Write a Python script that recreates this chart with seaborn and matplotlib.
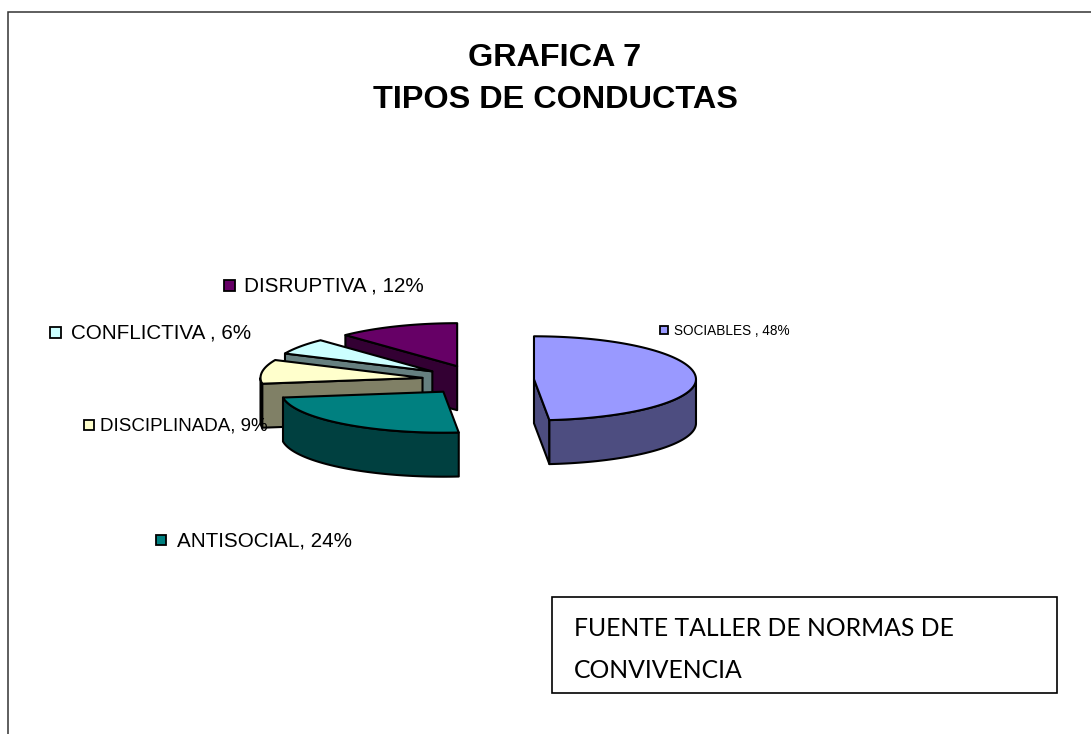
import numpy as np
import matplotlib
matplotlib.use("Agg")
import matplotlib.pyplot as plt
from matplotlib.patches import Rectangle
from matplotlib.colors import to_rgb
import seaborn as sns

categories = ["SOCIABLES", "ANTISOCIAL", "DISCIPLINADA", "CONFLICTIVA", "DISRUPTIVA"]
values = [48, 24, 9, 6, 12]
label_texts = ["SOCIABLES , 48%", "ANTISOCIAL, 24%", "DISCIPLINADA, 9%",
               "CONFLICTIVA , 6%", "DISRUPTIVA , 12%"]
colors = ["#9999FF", "#008080", "#FFFFCC", "#CCFFFF", "#660066"]
title_lines = ["GRAFICA 7", "TIPOS DE CONDUCTAS"]
source_lines = ["FUENTE TALLER DE NORMAS DE", "CONVIVENCIA"]

# layout, in figure pixels
CX, CY, RX, RY_BACK, RY_FRONT, DEPTH, EXPLODE = 478, 380, 162, 43, 41, 44, 0.346
label_layout = {  # swatch x, swatch y, swatch size, text x, font size
    "SOCIABLES": (660, 330, 8, 674, 9.8),
    "ANTISOCIAL": (156, 540, 10, 177, 14.9),
    "DISCIPLINADA": (84, 425, 10, 100, 13.5),
    "CONFLICTIVA": (50, 332, 11, 71, 14.85),
    "DISRUPTIVA": (224, 285, 11, 244, 14.9),
}

sns.set_theme(style="white")
plt.rcParams["font.family"] = ["Liberation Sans", "DejaVu Sans"]

fig = plt.figure(figsize=(10.91, 7.34), dpi=100, facecolor="white")
ax = fig.add_axes([0, 0, 1, 1])
ax.set_xlim(0, 1091)
ax.set_ylim(734, 0)
ax.axis("off")
sns.despine(ax=ax, left=True, bottom=True)

# outer frame (runs off the top-right and the bottom of the picture)
ax.plot([8, 8, 1091], [734, 12, 12], color="#333333", lw=1.1, solid_joinstyle="miter")

for y, line in zip((58, 100), title_lines):
    ax.text(555, y, line, ha="center", va="center", fontsize=23.3,
            fontweight="bold", color="black")


def rim(theta, apex):
    c = np.cos(theta)
    return apex[0] + RX * np.sin(theta), apex[1] - np.where(c > 0, RY_BACK, RY_FRONT) * c


fractions = np.array(values, dtype=float) / np.sum(values)
ends = np.cumsum(fractions) * 2 * np.pi
starts = ends - fractions * 2 * np.pi
mids = (starts + ends) / 2
style = dict(edgecolor="black", linewidth=1.5, joinstyle="round")

# painter's order: the slices at the back first
order = [4, 3, 2, 1, 0]
for i in order:
    apex = (CX + EXPLODE * RX * np.sin(mids[i]), CY - EXPLODE * RY_BACK * np.cos(mids[i]))
    top = colors[i]
    dark = tuple(c * 0.5 for c in to_rgb(top))
    # radial walls, only those that face the viewer
    walls = []
    if starts[i] >= np.pi:
        walls.append(starts[i])
    if ends[i] <= np.pi:
        walls.append(ends[i])
    for a in walls:
        rx, ry = rim(a, apex)
        ax.fill([apex[0], rx, rx, apex[0]],
                [apex[1], ry, ry + DEPTH, apex[1] + DEPTH], facecolor=dark, **style)
    # outer wall, the part that faces the viewer
    lo, hi = max(starts[i], np.pi / 2), min(ends[i], 3 * np.pi / 2)
    if hi > lo:
        th = np.linspace(lo, hi, 80)
        x, y = rim(th, apex)
        ax.fill(np.r_[x, x[::-1]], np.r_[y, y[::-1] + DEPTH], facecolor=dark, **style)
    # top face
    th = np.linspace(starts[i], ends[i], 120)
    x, y = rim(th, apex)
    ax.fill(np.r_[apex[0], x], np.r_[apex[1], y], facecolor=top, **style)

for cat, txt, col in zip(categories, label_texts, colors):
    sx, sy, size, tx, fs = label_layout[cat]
    ax.add_patch(Rectangle((sx, sy - size / 2), size, size, facecolor=col,
                           edgecolor="black", linewidth=1.3, zorder=6))
    ax.text(tx, sy + 1, txt, ha="left", va="center", fontsize=fs, color="black", zorder=7)

# source box
ax.add_patch(Rectangle((552, 597), 505, 96, facecolor="white", edgecolor="black",
                       linewidth=1.2, zorder=6))
for y, line in zip((629, 671), source_lines):
    ax.text(574, y, line, ha="left", va="center", fontsize=17.8, family="Lato",
            color="black", zorder=7)

fig.savefig("out.png", dpi=100)
